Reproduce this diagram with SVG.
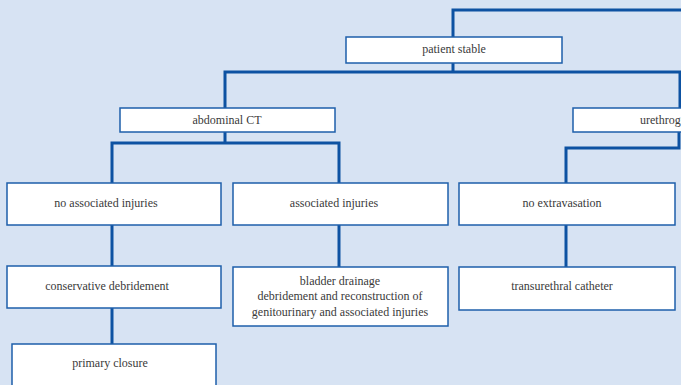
<svg xmlns="http://www.w3.org/2000/svg" width="681" height="385" viewBox="0 0 681 385">
<style>
.bg{fill:#d7e3f3}
.box{fill:#ffffff;stroke:#1e5fab;stroke-width:1.5}
.t{font-family:"Liberation Serif","DejaVu Serif","Times New Roman",serif;font-size:12px;fill:#3a3a3a;text-anchor:middle}
.c{fill:none;stroke:#0d52a2;stroke-width:3;stroke-linejoin:miter;stroke-linecap:square}
</style>
<rect class="bg" x="0" y="0" width="681" height="385"/>
<g id="connectors">
<path class="c" d="M683 10 H453 V37"/>
<path class="c" d="M453 63 V72 M225 108 V72 H680 V108"/>
<path class="c" d="M225 132 V143 M112 183 V143 H339 V183"/>
<path class="c" d="M679 132 V148 H566 V183"/>
<path class="c" d="M112 225 V266"/>
<path class="c" d="M339 225 V267"/>
<path class="c" d="M566 225 V267"/>
<path class="c" d="M112 308 V344"/>
</g>
<g id="patient-stable"><rect class="box" x="346" y="37" width="216" height="26"/><text class="t" x="454" y="53">patient stable</text></g>
<g id="abdominal-ct"><rect class="box" x="120" y="108" width="215" height="24"/><text class="t" x="227" y="124">abdominal CT</text></g>
<g id="urethrography"><rect class="box" x="573" y="108" width="215" height="24"/><text class="t" x="674" y="124">urethrography</text></g>
<g id="no-associated-injuries"><rect class="box" x="7" y="183" width="214" height="42"/><text class="t" x="106" y="207">no associated injuries</text></g>
<g id="associated-injuries"><rect class="box" x="233" y="183" width="215" height="42"/><text class="t" x="334" y="207">associated injuries</text></g>
<g id="no-extravasation"><rect class="box" x="459" y="183" width="216" height="42"/><text class="t" x="562" y="207">no extravasation</text></g>
<g id="conservative-debridement"><rect class="box" x="7" y="266" width="214" height="42"/><text class="t" x="107" y="290">conservative debridement</text></g>
<g id="bladder-drainage"><rect class="box" x="233" y="267" width="215" height="59"/><text class="t" x="340" y="285">bladder drainage</text><text class="t" x="340" y="300">debridement and reconstruction of</text><text class="t" x="340" y="316">genitourinary and associated injuries</text></g>
<g id="transurethral-catheter"><rect class="box" x="459" y="267" width="216" height="43"/><text class="t" x="562" y="290">transurethral catheter</text></g>
<g id="primary-closure"><rect class="box" x="12" y="344" width="204" height="50"/><text class="t" x="110" y="367">primary closure</text></g>
</svg>
